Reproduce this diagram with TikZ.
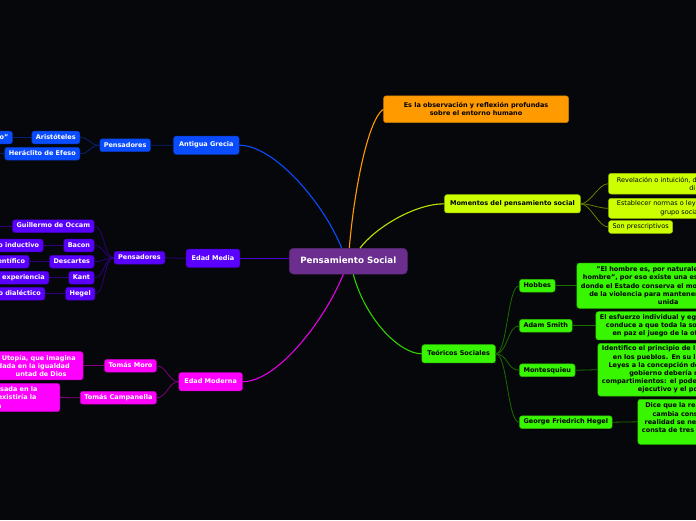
\documentclass[tikz,border=0pt]{standalone}
\usepackage{fontspec}
\setmainfont{DejaVu Sans}
\usetikzlibrary{positioning}
\definecolor{fondo}{HTML}{06070A}
\definecolor{morado}{HTML}{6B2E8F}
\definecolor{azul}{HTML}{0A4CFF}
\definecolor{violeta}{HTML}{5A00FF}
\definecolor{fucsia}{HTML}{FF00FF}
\definecolor{naranja}{HTML}{FF9A00}
\definecolor{lima}{HTML}{CCFF00}
\definecolor{verde}{HTML}{38F500}

\begin{document}
\begin{tikzpicture}[x=1pt,y=-1pt,
	caja/.style={rounded corners=2.5pt,inner xsep=4pt,inner ysep=0pt,line width=0.5pt,font=\fontsize{6.5}{8.2}\selectfont\bfseries},
	uno/.style={caja,text height=4.9pt,text depth=1.4pt,minimum height=12.7pt},
	tema/.style={uno,minimum height=18.3pt,inner xsep=5.5pt},
	centro/.style={caja,fill=morado,draw=morado!80!black,text=white,rounded corners=4pt,font=\fontsize{8.7}{10}\selectfont\bfseries,text height=6.5pt,text depth=1.8pt,minimum width=118pt,minimum height=25.7pt},
	izq/.style={uno,anchor=east,text width=#1,align=right},
	der/.style={caja,anchor=west,text width=#1,align=left},
	nAzul/.style={fill=azul,draw=azul!75!black,text=white},
	nVio/.style={fill=violeta,draw=violeta!75!black,text=white},
	nFuc/.style={fill=fucsia,draw=fucsia!75!black,text=white},
	nNar/.style={fill=naranja,draw=naranja!80!black,text=black},
	nLim/.style={fill=lima,draw=lima!75!black,text=black},
	nVer/.style={fill=verde,draw=verde!75!black,text=black},
	rama/.style={line width=1.1pt},
	sub/.style={line width=0.8pt}]
	\useasboundingbox (0,0) rectangle (696,520);
	\fill[fondo] (0,0) rectangle (696,520);
	\clip (0,0) rectangle (696,520);

	\node[centro] (ps) at (348.3,261.2) {Pensamiento Social};

	\node[tema,nAzul,anchor=east] (grecia) at (239.3,145.2) {Antigua Grecia};
	\node[uno,nAzul,anchor=east] (gPens) at (150.7,145.3) {Pensadores};
	\node[uno,nAzul,anchor=east] (aris) at (80,137.5) {Aristóteles};
	\node[izq=60pt,nAzul] (arisD) at (12.7,137.5) {o"};
	\node[uno,nAzul,anchor=east] (hera) at (80,153.7) {Heráclito de Efeso};
	\coordinate (heraD) at (-20,153.7);

	\node[tema,nVio,anchor=east] (media) at (240,258.3) {Edad Media};
	\node[uno,nVio,anchor=east] (mPens) at (165,257.8) {Pensadores};
	\node[uno,nVio,anchor=east] (occam) at (94.3,226.2) {Guillermo de Occam};
	\coordinate (occamD) at (-20,226.2);
	\node[uno,nVio,anchor=east] (bacon) at (94.3,245.5) {Bacon};
	\node[izq=60pt,nVio] (baconD) at (43.3,245.5) {o inductivo};
	\node[uno,nVio,anchor=east] (desc) at (94.3,261.7) {Descartes};
	\node[izq=60pt,nVio] (descD) at (29.3,261.7) {entífico};
	\node[uno,nVio,anchor=east] (kant) at (94.3,277.8) {Kant};
	\node[izq=60pt,nVio] (kantD) at (49,277.8) {experiencia};
	\node[uno,nVio,anchor=east] (hegL) at (95,293.8) {Hegel};
	\node[izq=60pt,nVio] (hegLD) at (45,293.8) {o dialéctico};

	\node[tema,nFuc,anchor=east] (moderna) at (242.7,381.7) {Edad Moderna};
	\node[uno,nFuc,anchor=east] (moro) at (156.7,365.8) {Tomás Moro};
	\node[caja,nFuc,anchor=east,text width=110pt,align=right,minimum height=28.3pt] (moroD) at (83.3,365.8) {n Utopía, que imagina\hspace{3.3pt}\mbox{}\\dada en la igualdad\hspace{9.3pt}\mbox{}\\untad de Dios\hspace{12.6pt}\mbox{}};
	\node[uno,nFuc,anchor=east] (camp) at (156.7,397.8) {Tomás Campanella};
	\node[caja,nFuc,anchor=east,text width=110pt,align=right,minimum height=28.3pt] (campD) at (60,397.5) {usada en la\hspace{18.3pt}\mbox{}\\existiría la\hspace{19.3pt}\mbox{}\\n\hspace{54.3pt}\mbox{}};

	\node[caja,nNar,anchor=west,align=center,minimum width=185pt,minimum height=26.7pt] (obs) at (383.3,109.3) {Es la observación y reflexión profundas\\sobre el entorno humano};

	\node[tema,nLim,anchor=west] (mom) at (444.3,203.8) {Momentos del pensamiento social};
	\node[der=150pt,nLim,font=\fontsize{6.5}{8.2}\selectfont,minimum height=20.7pt] (rev) at (608.3,183.7) {\hspace*{4.4pt}Revelación o intuición, d\\\hspace*{76.7pt}di};
	\node[der=150pt,nLim,font=\fontsize{6.5}{8.2}\selectfont,minimum height=20pt] (est) at (608.3,208.3) {\hspace*{4.4pt}Establecer normas o ley\\\hspace*{47.7pt}grupo socia};
	\node[uno,nLim,anchor=west,font=\fontsize{6.5}{8.2}\selectfont] (pres) at (608.3,227) {Son prescriptivos};

	\node[tema,nVer,anchor=west] (teo) at (421.7,353.8) {Teóricos Sociales};
	\node[uno,nVer,anchor=west] (hob) at (519.3,285.7) {Hobbes};
	\node[der=200pt,nVer,minimum height=45.3pt] (hobD) at (576.7,285.7) {\hspace*{15.3pt}"El hombre es, por naturale\\\hspace*{2pt}hombre", por eso existe una es\\donde el Estado conserva el mo\\\hspace*{8.3pt}de la violencia para mantener\\\hspace*{77pt}unida};
	\node[uno,nVer,anchor=west] (smith) at (519.3,325.8) {Adam Smith};
	\node[der=200pt,nVer,minimum height=28.3pt] (smithD) at (595.7,325.8) {El esfuerzo individual y eg\\\hspace*{6pt}conduce a que toda la soc\\\hspace*{12.6pt}en paz el juego de la of};
	\node[uno,nVer,anchor=west] (mont) at (519.3,370.3) {Montesquieu};
	\node[der=200pt,nVer,minimum height=52.7pt] (montD) at (597.7,369.7) {Identifico el principio de l\\\hspace*{11pt}en los pueblos. En su lib\\\hspace*{6.6pt}Leyes a la concepción de\\\hspace*{27.3pt}gobierno debería n\\compartimientos: el pode\\\hspace*{36pt}ejecutivo y el po};
	\node[uno,nVer,anchor=west] (hegR) at (519.3,422.2) {George Friedrich Hegel};
	\node[der=200pt,nVer,minimum height=45pt] (hegRD) at (637.7,421.8) {\hspace*{3.3pt}Dice que la rea\\\hspace*{10.6pt}cambia cons\\\hspace*{2.6pt}realidad se ne\\consta de tres\\\mbox{}};

	\draw[rama,azul] ([xshift=-6.6pt]ps.north) .. controls +(-18,-45) and +(35,0) .. (grecia.east);
	\draw[rama,naranja] ([xshift=1pt]ps.north) .. controls +(5,-60) and +(-15,10) .. (obs.west);
	\draw[rama,lima!90!black] ([xshift=11.7pt]ps.north) .. controls +(15,-20) and +(-30,0) .. (mom.west);
	\draw[rama,violeta!85!black] (media.east) -- (media.east -| ps.west);
	\draw[rama,fucsia!90!black] ([xshift=-5pt]ps.south) .. controls +(-18,45) and +(35,0) .. (moderna.east);
	\draw[rama,verde!85!black] ([xshift=5pt]ps.south) .. controls +(12,45) and +(-22,0) .. (teo.west);

	\draw[sub,azul!45!black] (grecia.west) -- (gPens.east);
	\foreach \n in {aris,hera}
		\draw[sub,azul!45!black] (gPens.west) .. controls +(-10,0) and +(10,0) .. (\n.east);
	\draw[sub,azul!45!black] (aris.west) -- (arisD.east);
	\draw[sub,azul!45!black] (hera.west) -- (heraD);

	\draw[sub,violeta!50!black] (media.west) -- (mPens.east);
	\foreach \n in {occam,bacon,desc,kant,hegL}
		\draw[sub,violeta!50!black] (mPens.west) .. controls +(-10,0) and +(10,0) .. (\n.east);
	\draw[sub,violeta!50!black] (occam.west) -- (occamD);
	\foreach \n in {bacon,desc,kant,hegL}
		\draw[sub,violeta!50!black] (\n.west) -- (\n D.east);

	\foreach \n in {moro,camp}{
		\draw[sub,fucsia!50!black] (moderna.west) .. controls +(-10,0) and +(10,0) .. (\n.east);
		\draw[sub,fucsia!50!black] (\n.west) -- (\n D.east);
	}

	\foreach \n in {rev,est,pres}
		\draw[sub,lima!50!black] (mom.east) .. controls +(10,0) and +(-10,0) .. (\n.west);

	\foreach \n in {hob,smith,mont,hegR}{
		\draw[sub,verde!45!black] (teo.east) .. controls +(12,0) and +(-12,0) .. (\n.west);
		\draw[sub,verde!45!black] (\n.east) -- (\n D.west);
	}
\end{tikzpicture}
\end{document}
